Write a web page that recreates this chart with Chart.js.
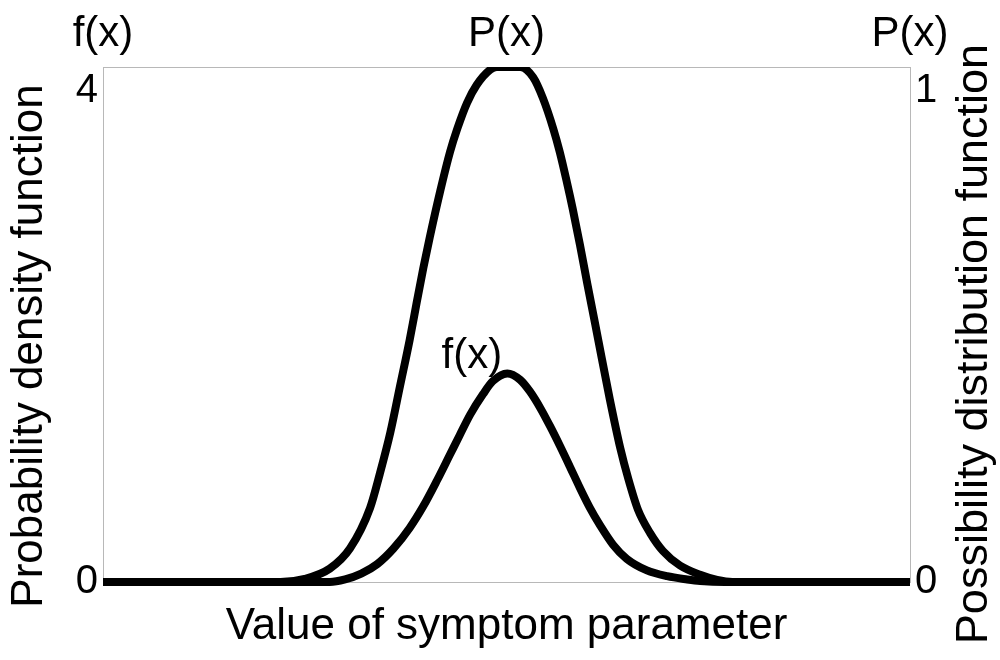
<!DOCTYPE html>
<html>
<head>
<meta charset="utf-8">
<script src="https://cdn.jsdelivr.net/npm/chart.js@4"></script>
<style>
  body { margin: 0; background: #fff; }
  canvas { display: block; }
</style>
</head>
<body>
<canvas id="myChart" width="1000" height="660"></canvas>
<script>
// x positions on a 0..100 "symptom parameter" axis
const pX = [0, 22, 25, 28.1, 30.6, 33.1, 34.3, 35.6, 36.8, 38.0, 38.9, 39.7, 40.5, 41.8, 43.0, 43.9, 45.1, 46.3, 48.0, 48.8,
            51.0, 51.7, 53.3, 54.5, 55.8, 56.6, 57.5, 58.2, 59.1, 60.0, 61.0, 61.8, 62.8, 64.1, 65.1, 66.3, 67.8, 69.4, 71.5, 74.0, 76.1, 78, 100];
// possibility distribution P(x), right axis 0..1
const pValues = [0, 0, 0.006, 0.026, 0.065, 0.144, 0.21, 0.29, 0.38, 0.47, 0.545, 0.61, 0.67, 0.76, 0.835, 0.88, 0.93, 0.965, 0.995, 1,
                 1, 1, 0.98, 0.94, 0.88, 0.835, 0.775, 0.725, 0.655, 0.58, 0.50, 0.435, 0.355, 0.26, 0.20, 0.14, 0.095, 0.06, 0.032, 0.014, 0.004, 0, 0];

const fX = [0, 28.1, 30, 32, 34, 36, 38, 39.7, 41.4, 43.0, 44.2, 45.5, 47.1, 48.3, 50.1, 51.7, 52.9, 54.2, 55.4, 56.6, 57.9,
            59.1, 60.3, 61.6, 63.2, 64.9, 67.4, 69.9, 72.4, 74.0, 77, 100];
// probability density f(x), left axis 0..4
const fValues = [0, 0, 0.02, 0.065, 0.14, 0.26, 0.42, 0.59, 0.79, 0.99, 1.14, 1.30, 1.46, 1.56, 1.62, 1.57, 1.48, 1.35, 1.21, 1.06, 0.89,
                 0.73, 0.58, 0.44, 0.29, 0.18, 0.09, 0.045, 0.02, 0.008, 0, 0];

const leftTicks = [0, 4];
const rightTicks = [0, 1];
const fLabelAt = { x: 45.7, y: 1.75 };

const FONT = "'Liberation Sans', Arial, sans-serif";

const textPlugin = {
    id: "texts",
    beforeDatasetsDraw(chart) {
        const { ctx, chartArea: a } = chart;
        ctx.save();
        ctx.strokeStyle = "#b8b8b8";
        ctx.lineWidth = 1;
        ctx.strokeRect(Math.round(a.left) + 0.5, Math.round(a.top) + 0.5,
                       Math.round(a.right - a.left), Math.round(a.bottom - a.top));
        ctx.restore();
    },
    afterDraw(chart) {
        const { ctx, chartArea: a, scales } = chart;
        ctx.save();
        ctx.fillStyle = "#000";
        ctx.textAlign = "center";

        // series names above the frame
        ctx.font = "42px " + FONT;
        ctx.textBaseline = "alphabetic";
        ctx.fillText("f(x)", a.left, 46);
        ctx.fillText("P(x)", (a.left + a.right) / 2, 46);
        ctx.fillText("P(x)", a.right, 46);

        // label next to the density curve
        ctx.textBaseline = "middle";
        ctx.fillText("f(x)", scales.x.getPixelForValue(fLabelAt.x), scales.y.getPixelForValue(fLabelAt.y));

        // axis titles
        ctx.font = "44px " + FONT;
        ctx.textBaseline = "alphabetic";
        ctx.fillText("Value of symptom parameter", (a.left + a.right) / 2, 639);

        ctx.textBaseline = "middle";
        ctx.save();
        ctx.translate(30, 346);
        ctx.rotate(-Math.PI / 2);
        ctx.fillText("Probability density function", 0, 0);
        ctx.restore();

        ctx.save();
        ctx.font = "45px " + FONT;
        ctx.translate(975, 344);
        ctx.rotate(-Math.PI / 2);
        ctx.fillText("Possibility distribution function", 0, 0);
        ctx.restore();

        ctx.restore();
    }
};

const topLabel = (max) => (value) => value === max ? ["", String(value)] : String(value);

const lineStyle = {
    borderColor: "#000",
    backgroundColor: "#000",
    borderWidth: 8,
    pointRadius: 0,
    fill: false,
    cubicInterpolationMode: "monotone",
    borderJoinStyle: "round",
    clip: { left: 4, top: 0, right: 4, bottom: 5 },
};

const data = {
    datasets: [
        {
            label: "P(x)",
            data: pX.map((x, i) => ({ x: x, y: pValues[i] })),
            yAxisID: "y1",
            ...lineStyle,
        },
        {
            label: "f(x)",
            data: fX.map((x, i) => ({ x: x, y: fValues[i] })),
            yAxisID: "y",
            ...lineStyle,
        },
    ],
};

const config = {
    type: "line",
    data: data,
    options: {
        responsive: false,
        animation: false,
        devicePixelRatio: 1,
        layout: { padding: { top: 67, left: 0, right: 0, bottom: 0 } },
        plugins: {
            legend: { display: false },
            tooltip: { enabled: false },
        },
        scales: {
            x: {
                type: "linear",
                min: 0,
                max: 100,
                grid: { display: false, drawTicks: false },
                border: { display: false },
                ticks: { display: false },
                afterFit: (s) => { s.height = 78; },
            },
            y: {
                position: "left",
                min: 0,
                max: 4,
                afterBuildTicks: (s) => { s.ticks = leftTicks.map(v => ({ value: v })); },
                grid: { display: false, drawTicks: false },
                border: { display: false },
                ticks: {
                    padding: 5,
                    color: "#000",
                    font: { family: FONT, size: 40 },
                    callback: topLabel(4),
                },
                afterFit: (s) => { s.width = 103; },
            },
            y1: {
                position: "right",
                min: 0,
                max: 1,
                afterBuildTicks: (s) => { s.ticks = rightTicks.map(v => ({ value: v })); },
                grid: { display: false, drawTicks: false },
                border: { display: false },
                ticks: {
                    padding: 5,
                    color: "#000",
                    font: { family: FONT, size: 40 },
                    callback: topLabel(1),
                },
                afterFit: (s) => { s.width = 90; },
            },
        },
    },
    plugins: [textPlugin],
};

const myChart = new Chart(document.getElementById("myChart"), config);
</script>
</body>
</html>
